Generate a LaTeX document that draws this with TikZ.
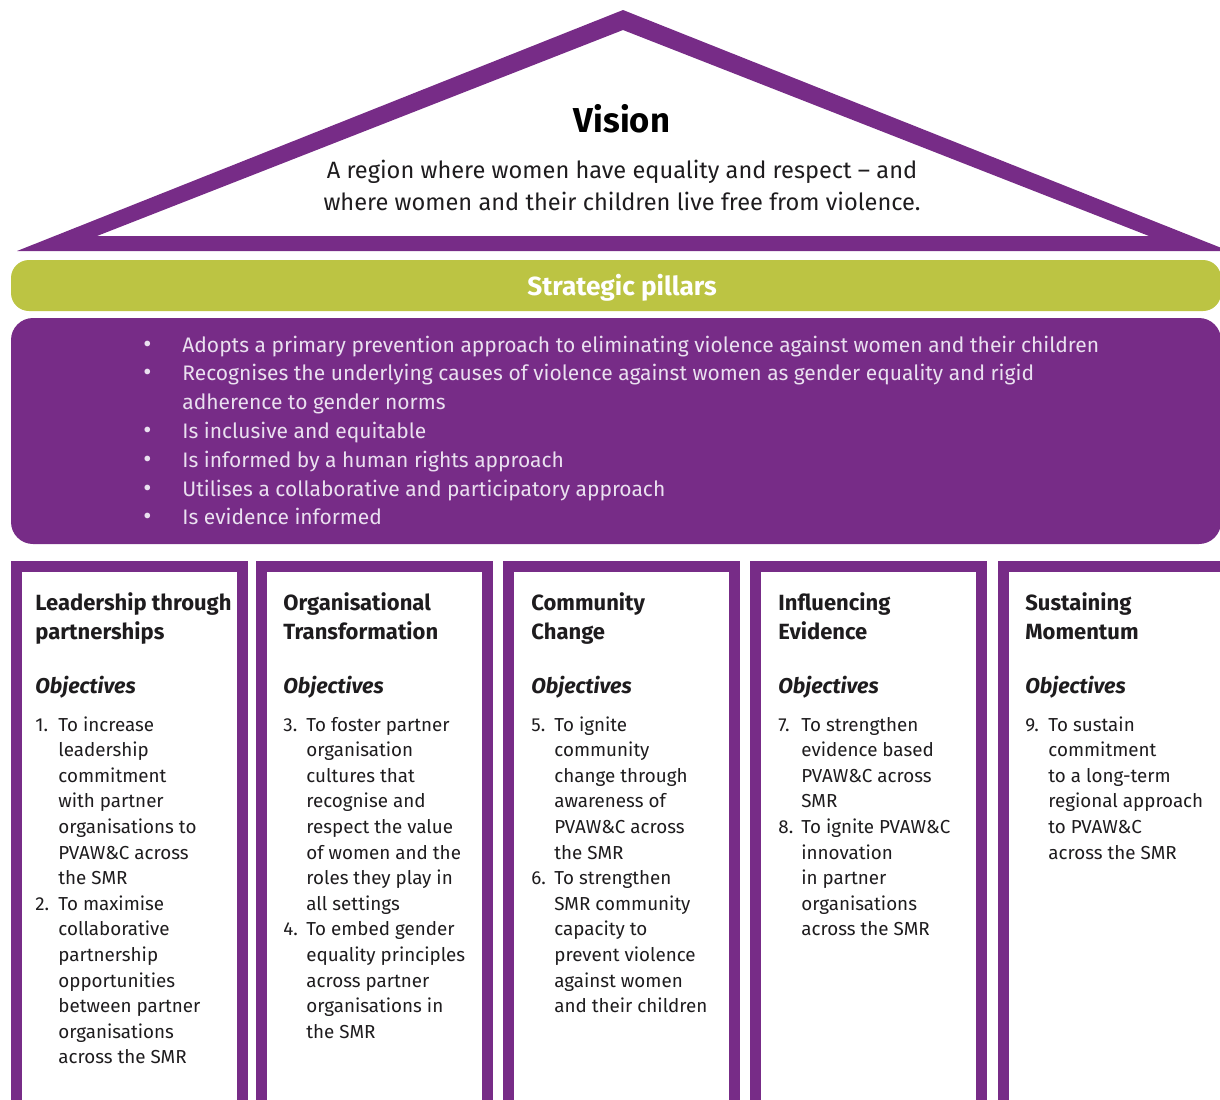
\documentclass[tikz,border=0pt]{standalone}
\usepackage{fontspec}
\setmainfont{Fira Sans}
\usetikzlibrary{positioning}

\definecolor{smrpurple}{RGB}{119,44,135}
\definecolor{smrgreen}{RGB}{188,196,67}
\definecolor{smrlilac}{RGB}{234,224,240}
\definecolor{smrtext}{RGB}{30,28,30}

\tikzstyle{frame} = [draw=smrpurple, line width=5.5pt]
\tikzstyle{txt} = [anchor=base west, inner sep=0pt, text=smrtext]
\tikzstyle{head} = [txt, font=\fontsize{11}{14.5}\selectfont\bfseries]
\tikzstyle{objhead} = [txt, font=\fontsize{10.7}{14.5}\selectfont\bfseries\itshape]
\tikzstyle{objlist} = [txt, font=\fontsize{9.4}{12.8}\selectfont]

\newcommand{\objtab}[1]{\begin{tabular}[t]{@{}p{11.5pt}@{}l@{}}#1\end{tabular}}
\newcommand{\headtab}[1]{\begin{tabular}[t]{@{}l@{}}#1\end{tabular}}
\newcommand{\tenet}{{\fontsize{12.5}{14}\selectfont\textbullet}}

\begin{document}
\begin{tikzpicture}[x=0.5pt,y=-0.5pt]
  \useasboundingbox (0,0) rectangle (1220,1099);
  \clip (0,0) rectangle (1220,1099);

  % roof
  \fill[smrpurple, even odd rule] (17,251) -- (623,10) -- (1229,251) -- cycle
    (97,236) -- (623,30) -- (1149,236) -- cycle;
  \node (vision) [anchor=base, inner sep=0pt, font=\fontsize{17.3}{20}\selectfont\bfseries] at (622,132) {Vision};
  \node (visiontext) [anchor=base, inner sep=0pt, text=smrtext, font=\fontsize{11.8}{16}\selectfont] at (622,178)
    {\begin{tabular}[t]{@{}c@{}}A region where women have equality and respect -- and\\where women and their children live free from violence.\end{tabular}};

  % strategic pillars
  \fill[smrgreen, rounded corners=9pt] (11,260) rectangle (1221,311);
  \node (pillars) [anchor=base, inner sep=0pt, text=white, font=\fontsize{13.1}{15}\selectfont\bfseries] at (622,295) {Strategic pillars};
  \fill[smrpurple, rounded corners=11pt] (11,318) rectangle (1221,544);
  \node (tenets) [txt, text=smrlilac, font=\fontsize{10.5}{14.4}\selectfont] at (143,352) {\begin{tabular}[t]{@{}p{19.5pt}@{}l@{}}
    \tenet & Adopts a primary prevention approach to eliminating violence against women and their children\\
    \tenet & Recognises the underlying causes of violence against women as gender equality and rigid\\
     & adherence to gender norms\\
    \tenet & Is inclusive and equitable\\
    \tenet & Is informed by a human rights approach\\
    \tenet & Utilises a collaborative and participatory approach\\
    \tenet & Is evidence informed
  \end{tabular}};

  % pillar frames
  \draw[frame] (16.5,566.5) rectangle (242.5,1120);
  \draw[frame] (261.5,566.5) rectangle (487.5,1120);
  \draw[frame] (508.5,566.5) rectangle (734.5,1120);
  \draw[frame] (755.5,566.5) rectangle (981.5,1120);
  \draw[frame] (1003.5,566.5) rectangle (1229.5,1120);

  % pillar 1
  \node (lead) [head] at (35,610) {\headtab{Leadership through\\partnerships}};
  \node (lead-obj) [objhead] at (35,693) {Objectives};
  \node (lead-list) [objlist] at (35,731) {\objtab{
    1. & To increase\\ & leadership\\ & commitment\\ & with partner\\ & organisations to\\ & PVAW\&C across\\ & the SMR\\
    2. & To maximise\\ & collaborative\\ & partnership\\ & opportunities\\ & between partner\\ & organisations\\ & across the SMR}};

  % pillar 2
  \node (org) [head] at (283,610) {\headtab{Organisational\\Transformation}};
  \node (org-obj) [objhead] at (283,693) {Objectives};
  \node (org-list) [objlist] at (283,731) {\objtab{
    3. & To foster partner\\ & organisation\\ & cultures that\\ & recognise and\\ & respect the value\\ & of women and the\\ & roles they play in\\ & all settings\\
    4. & To embed gender\\ & equality principles\\ & across partner\\ & organisations in\\ & the SMR}};

  % pillar 3
  \node (comm) [head] at (531,610) {\headtab{Community\\Change}};
  \node (comm-obj) [objhead] at (531,693) {Objectives};
  \node (comm-list) [objlist] at (531,731) {\objtab{
    5. & To ignite\\ & community\\ & change through\\ & awareness of\\ & PVAW\&C across\\ & the SMR\\
    6. & To strengthen\\ & SMR community\\ & capacity to\\ & prevent violence\\ & against women\\ & and their children}};

  % pillar 4
  \node (infl) [head] at (778,610) {\headtab{Influencing\\Evidence}};
  \node (infl-obj) [objhead] at (778,693) {Objectives};
  \node (infl-list) [objlist] at (778,731) {\objtab{
    7. & To strengthen\\ & evidence based\\ & PVAW\&C across\\ & SMR\\
    8. & To ignite PVAW\&C\\ & innovation\\ & in partner\\ & organisations\\ & across the SMR}};

  % pillar 5
  \node (sust) [head] at (1025,610) {\headtab{Sustaining\\Momentum}};
  \node (sust-obj) [objhead] at (1025,693) {Objectives};
  \node (sust-list) [objlist] at (1025,731) {\objtab{
    9. & To sustain\\ & commitment\\ & to a long-term\\ & regional approach\\ & to PVAW\&C\\ & across the SMR}};
\end{tikzpicture}
\end{document}
